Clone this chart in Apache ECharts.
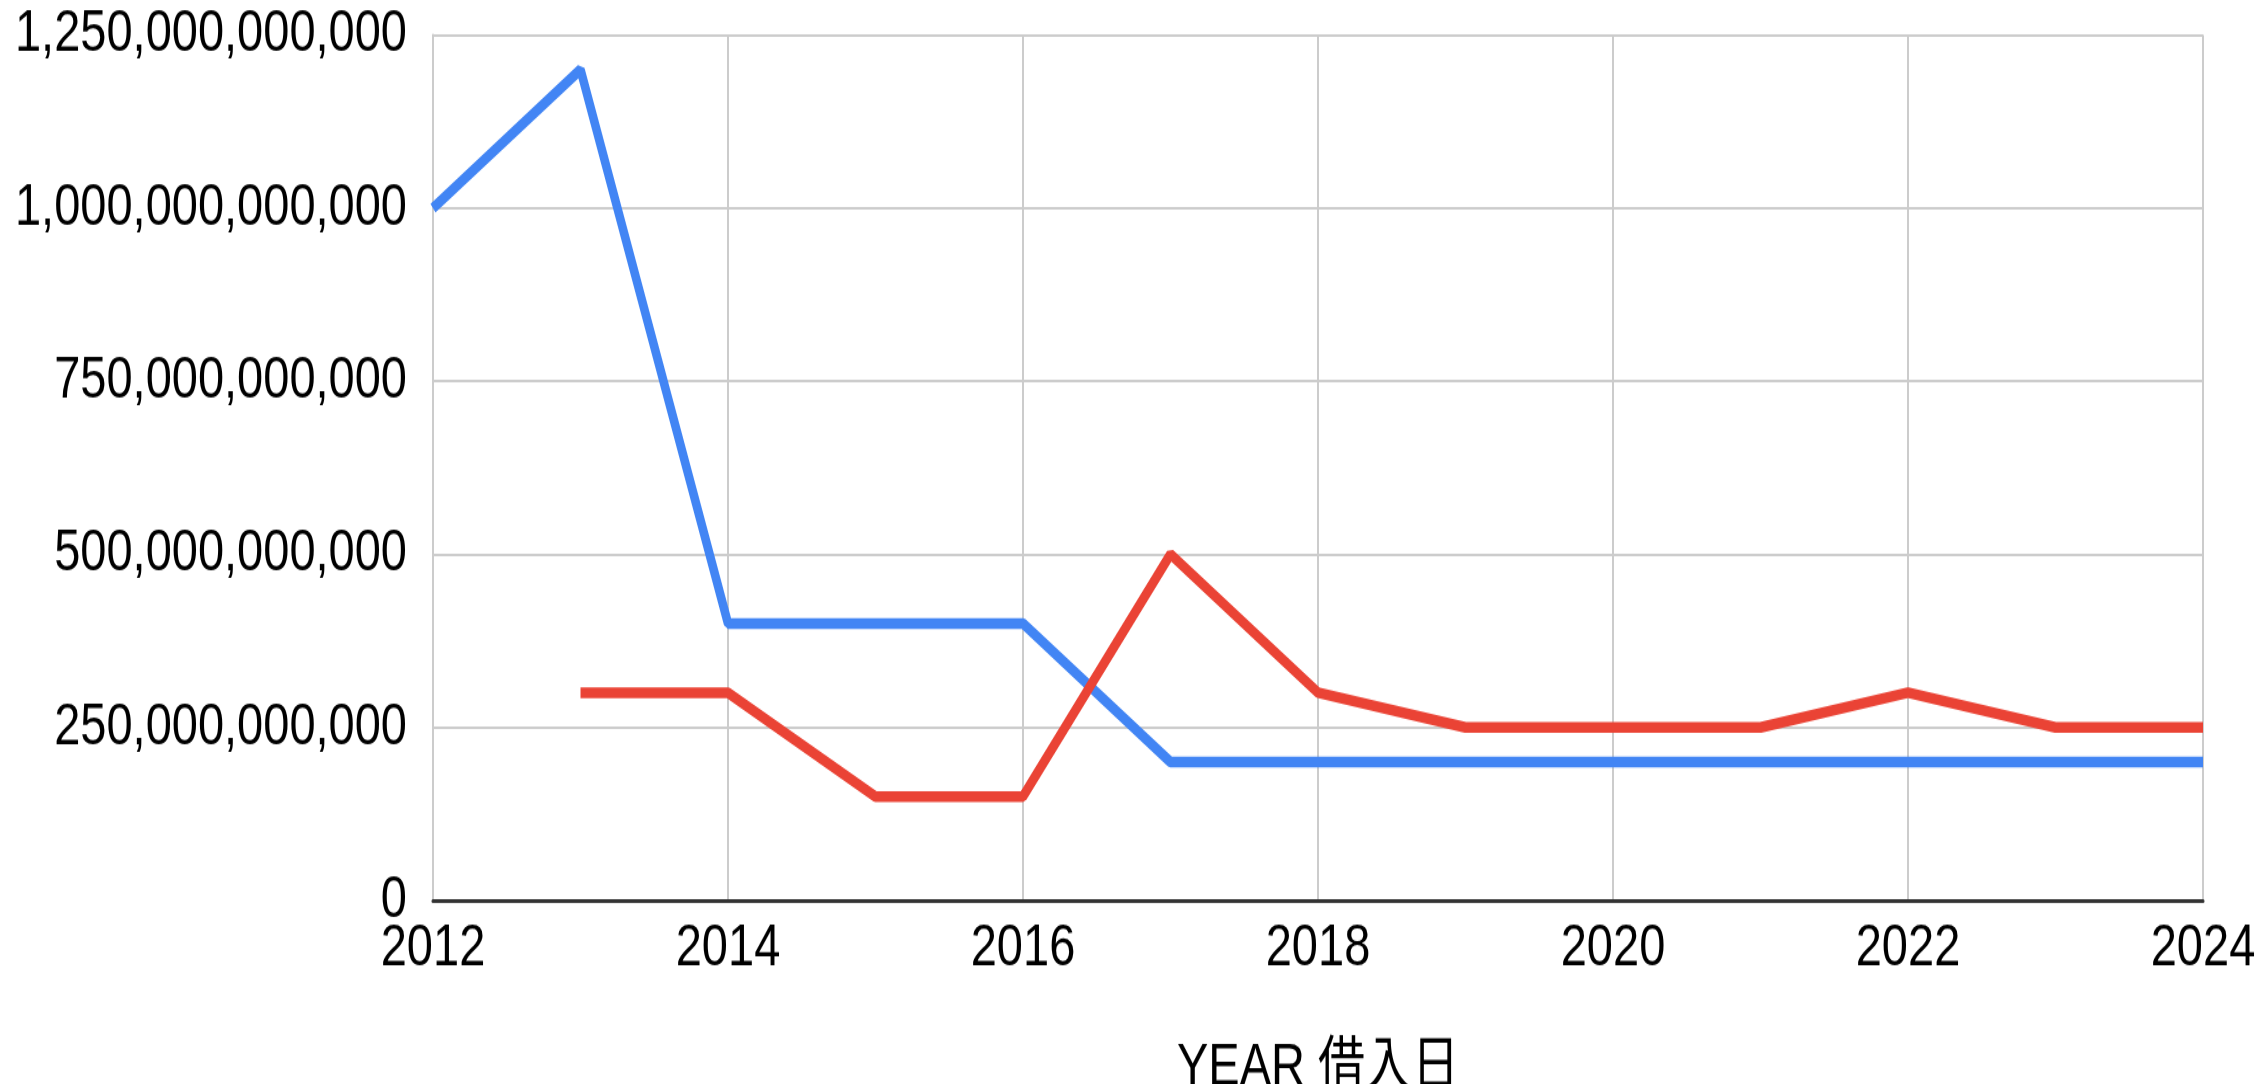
<!DOCTYPE html>
<html>
<head>
<meta charset="utf-8">
<script src="https://cdn.jsdelivr.net/npm/echarts@6/dist/echarts.min.js"></script>
<style>
  html, body { margin: 0; padding: 0; background: #fff; }
  #wrap { width: 2262px; height: 1084px; position: relative; overflow: hidden; }
  /* the reference is stretched vertically, so draw shorter and scale up */
  #chart { position: absolute; left: 0; top: 0; width: 2262px; height: 854px; transform: scaleY(1.27); transform-origin: 0 0; }
</style>
</head>
<body>
<div id="wrap"><div id="chart"></div></div>
<script>
// 年ごとの値
const years = [2012, 2013, 2014, 2015, 2016, 2017, 2018, 2019, 2020, 2021, 2022, 2023, 2024]
const blueVals = [1000e9, 1200e9, 400e9, 400e9, 400e9, 200e9, 200e9, 200e9, 200e9, 200e9, 200e9, 200e9, 200e9]
const redVals = [null, 300e9, 300e9, 150e9, 150e9, 500e9, 300e9, 250e9, 250e9, 250e9, 300e9, 250e9, 250e9]
const xTicks = [2012, 2014, 2016, 2018, 2020, 2022, 2024]
const yTicks = [0, 250e9, 500e9, 750e9, 1000e9, 1250e9]
const xName = 'YEAR 借入日'

const font = "'Liberation Sans', Arial, 'Noto Sans CJK JP', sans-serif"

const chart = echarts.init(document.getElementById('chart'))

const toPairs = vals => years.map((y, i) => [y, vals[i]])

const option = {
  animation: false,
  grid: { left: 433, right: 59, top: 27.5, bottom: 145, outerBoundsMode: 'none' },
  xAxis: {
    type: 'value',
    min: xTicks[0],
    max: xTicks[xTicks.length - 1],
    interval: 2,
    name: xName,
    nameLocation: 'middle',
    nameGap: 109,
    nameTextStyle: { fontFamily: font, fontSize: 47, color: '#000' },
    axisLine: { show: true, lineStyle: { color: '#333', width: 3 } },
    axisTick: { show: false },
    axisLabel: {
      fontFamily: font, fontSize: 47, color: '#000', margin: 15,
      formatter: v => String(v)
    },
    splitLine: { show: true, lineStyle: { color: '#ccc', width: 2 } }
  },
  yAxis: {
    type: 'value',
    min: yTicks[0],
    max: yTicks[yTicks.length - 1],
    interval: 250e9,
    axisLine: { show: true, lineStyle: { color: '#ccc', width: 2 } },
    axisTick: { show: false },
    axisLabel: {
      fontFamily: font, fontSize: 47, color: '#000', margin: 26,
      formatter: v => v.toLocaleString('en-US')
    },
    splitLine: { show: true, lineStyle: { color: '#ccc', width: 2 } }
  },
  series: [
    {
      type: 'line',
      data: toPairs(blueVals),
      showSymbol: false,
      lineStyle: { color: '#4285F4', width: 8.5 },
      itemStyle: { color: '#4285F4' },
      z: 3
    },
    {
      type: 'line',
      data: toPairs(redVals),
      showSymbol: false,
      lineStyle: { color: '#EA4335', width: 8.5 },
      itemStyle: { color: '#EA4335' },
      z: 4
    }
  ]
}

chart.setOption(option)
</script>
</body>
</html>
